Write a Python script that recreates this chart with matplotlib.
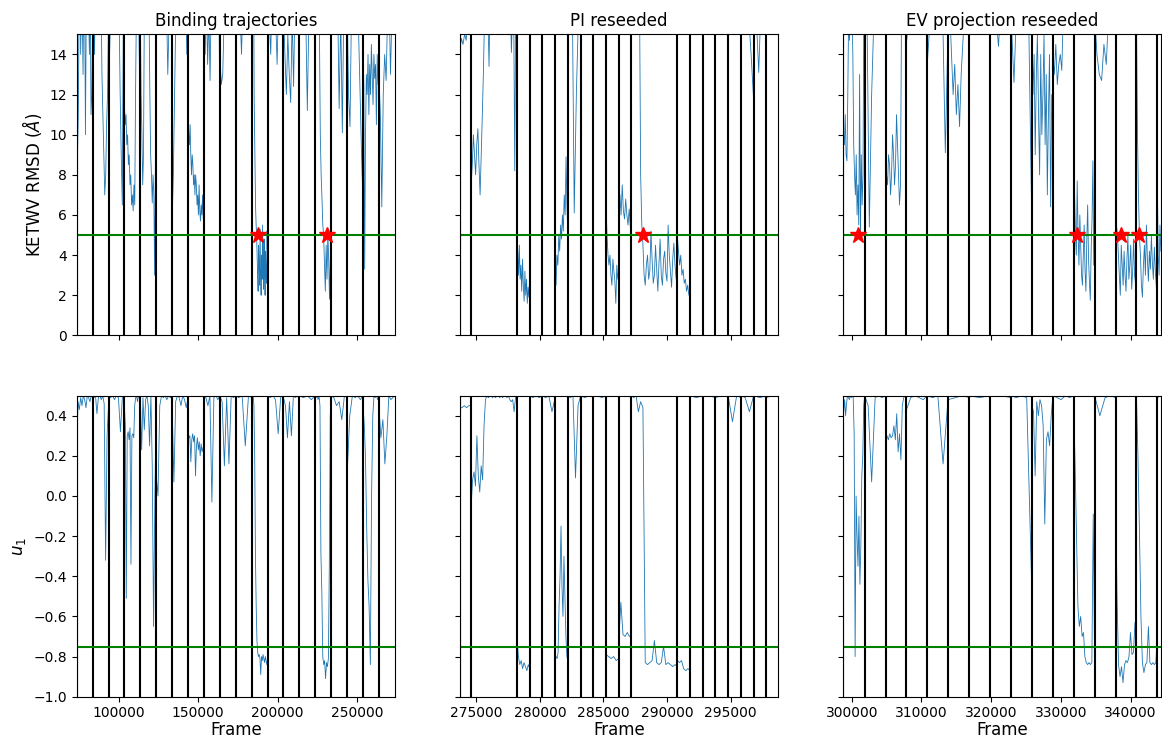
import numpy as np
import matplotlib.pyplot as plt

plt.rcParams['axes.formatter.useoffset'] = False

# trajectory start frames (last entry = end of the last trajectory)
bind_bounds = [73700 + 10000 * k for k in range(21)]
pi_bounds = [273700, 274600, 278200, 279200, 280200, 281200, 282200, 283200, 284200,
             285200, 286200, 287200, 290800, 291800, 292800, 293800, 294800, 295800,
             296800, 297800, 298700]
ev_bounds = [298700, 301850, 304850, 307850, 310850, 313850, 316850, 319850, 322850,
             325850, 328850, 331850, 334850, 337850, 340850, 343850, 344350]

# KETWV RMSD per trajectory (values above 15 are off the chart)
bind_rmsd = [
    [7, 9, 11, 16, 18, 14, 17, 16, 13, 18, 17, 10, 16, 18, 17, 16, 14, 17, 11, 12, 16],
    [16, 18, 14, 17, 16, 18, 17, 16, 15, 17, 13, 11, 9, 7, 8, 10.6, 12, 16],
    [17, 14, 16, 18, 16, 17, 18, 16, 15, 17, 16, 12, 9, 6.5, 16, 18],
    [11.5, 10.5, 11, 9.5, 10, 8.5, 9, 7.5, 8, 6.5, 7, 6.2, 7.5, 6.5, 12, 16, 18, 17, 16, 13, 17],
    [16, 12, 10, 7.5, 9, 16, 18, 17, 16, 15, 17, 16, 12, 9, 8, 6.6, 8, 7, 3.0, 9, 11],
    [17, 16, 18, 15, 17, 16, 18, 17, 13, 16, 18, 16],
    [5.7, 8, 12, 16, 18, 17, 16, 18, 17, 16, 15, 17, 14, 16],
    [12, 10, 9.5, 10.5, 9, 8, 9, 8.5, 7.5, 8, 7, 8, 7.5, 6.5, 7, 6, 7.5, 6.2, 5.7, 6.5, 6, 7, 5.8, 6.5],
    [16, 14, 17, 13.5, 16, 12.7, 17, 18, 16, 15, 17, 16, 18, 11.4],
    [14, 12.5, 13, 16, 18, 17, 16, 18, 17, 16, 17, 18],
    [17, 16, 18, 16, 14, 17, 18, 16, 17, 16, 18, 17],
    [16, 18, 17, 16, 18, 12, 10, 8, 6.3, 5.5, 5.0, 4, 3, 2.2, 4.5, 3.5, 2.5, 5.3, 3, 2, 4, 2.8,
     5.5, 3.5, 2.3, 4.8, 3.2, 2.0, 4.2, 3, 2.6, 5.2, 3.8],
    [17, 16, 14, 18, 17, 16, 13.5, 17, 18, 16, 17],
    [16, 14, 12, 15, 13, 11.6, 16, 12.4, 17, 18, 16, 17],
    [17, 16, 18, 17, 16, 11.2, 16, 18, 17, 16, 15],
    [17, 16, 18, 16, 17, 15, 10, 8, 6.8, 5.5, 5, 3.5, 2.2, 4.5, 2.8, 5.2, 3.8, 1.8, 4, 16],
    [17, 16, 18, 15, 17, 11.3, 16, 10.1, 17, 18, 16],
    [17, 12, 10.4, 16, 18, 17, 16, 18, 15, 12, 9, 6.6],
    [14, 12.5, 3.3, 10, 13, 12, 14, 11, 13.5, 12, 14.5, 13, 11.5, 14, 12.8, 13.5, 10.5, 14, 12.5, 13],
    [13, 11, 6.4, 12, 14, 12.7, 16, 17, 13, 16, 18, 17],
]
pi_rmsd = [
    [14.1, 14.8, 14.5, 15, 14.7, 16, 15.5, 17],
    [7.5, 8.5, 10, 9, 8, 9.5, 10.3, 8.5, 7, 9, 11, 13.2, 16, 17, 18, 16, 13.4, 17, 18, 16, 17, 18,
     16, 17, 18, 16, 17, 18, 16, 17, 18, 16, 17, 18, 16, 17, 14.1, 16, 17, 8.2, 17, 16],
    [5.5, 4.2, 3, 4.5, 2.8, 3.5, 2.2, 3.8, 2.5, 1.7, 3.2, 2.0, 2.8, 1.6, 2.4, 1.9, 3],
    [16, 18, 17, 16],
    [17, 16, 18, 17],
    [3, 2.5, 4, 3.5, 5, 4.2, 5.5, 4.8, 6, 5.2, 7, 6, 8.9, 6.5, 5],
    [16, 17, 18, 6.1, 12, 16, 17],
    [16, 17, 18, 16],
    [17, 16, 18, 17],
    [6.5, 5, 4, 3.5, 4, 3, 2.5, 3.8, 3.2, 2.7, 1.6, 3.5, 2.8, 3.2],
    [6.5, 7, 6, 7.5, 6.2, 5.8, 6.8, 6, 5.5, 6.3, 5.4, 6],
    [16, 18, 17, 16, 18, 17, 16, 17, 8, 5.5, 4.5, 3, 2.5, 3.5, 4, 2.8, 3.2, 5.2, 3.8, 2.6, 3, 4.5,
     3.3, 2.2, 3.6, 4.8, 3.0, 2.5, 3.8, 4.2, 3.1, 2.7, 5.5, 4, 3.2, 2.4, 3.8, 4.6, 3.5, 2.8, 4.0],
    [5, 4.2, 3.5, 4, 3, 3.3, 2.6, 2.8, 2.2, 2.5, 2.0, 2.4],
    [17, 16, 18, 17],
    [16, 18, 17, 16],
    [17, 16, 18, 17],
    [16, 17, 18, 16],
    [16, 17, 18, 16, 14, 11.7],
    [14.5, 16, 13.1, 17, 16, 18],
    [17, 16, 18],
]
ev_rmsd = [
    [11.5, 10, 9.5, 11, 9, 8.7, 12, 16, 14.7, 17, 15, 16, 14, 9.5, 8, 7, 9, 6, 7.5, 5.5, 13, 5.0,
     9, 6.5, 8, 16, 17],
    [17, 16, 5.4, 12, 16, 18, 17, 16, 18, 17],
    [9.5, 8, 7.5, 9, 8.5, 7, 8, 10, 9, 7.5, 8.5, 11, 9.5, 8, 6.5, 7.5, 16, 18, 17, 16, 17, 18],
    [14.6, 16, 17, 18, 16, 17, 16, 18],
    [13.6, 16, 18, 17, 16, 17, 9.1, 16],
    [17, 16, 14, 12, 13.5, 11, 12.5, 10.4, 13, 14.5, 16, 17, 18, 16],
    [17, 16, 18, 17],
    [16, 17, 14.4, 18, 17, 16],
    [16, 12.6, 17, 18, 16, 17, 15, 5.2],
    [16, 12, 14, 9, 13, 15, 11, 8, 14, 10, 12, 15, 9.5, 13, 7, 11, 14, 6.4, 12, 10],
    [14, 13, 14.5, 12.5, 13.5, 14, 13.2, 16, 17, 18, 16, 17, 16, 17, 18],
    [9.9, 7, 5.0, 4, 7.7, 5, 3.5, 6, 4.5, 3, 2.5, 4, 5.5, 3.2, 2.2, 4.8, 6.5, 3.8, 2.7, 1.75, 4.2,
     5.8, 8.7, 3.5, 5],
    [16, 14, 13, 12.7, 14.5, 13.5, 16, 17, 18, 16],
    [6, 5.5, 5, 4, 3, 2, 4.5, 3.5, 2.5, 4.2, 3, 2.2, 3.8, 5, 2.8, 3.5, 4.5, 2.3, 3.2, 4.8, 3, 2.6, 5.2],
    [16, 10.2, 7, 5.0, 4, 2.5, 1.9, 3.5, 4.5, 3, 5.5, 3.8, 2.7, 4.2, 3.3, 5, 3.6, 2.8, 4.4, 3.2, 2.4, 7.7],
    [7.7, 4, 3, 5.5, 4.2],
]

# u1 per trajectory
bind_u1 = [
    [0.22, 0.47, 0.43, 0.49, 0.45, 0.5, 0.48, 0.44, 0.5, 0.49, 0.47, 0.5, 0.49],
    [0.5, 0.49, 0.5, 0.41, 0.49, 0.5, 0.48, 0.5, 0.46, -0.32, 0.3, 0.45],
    [0.5, 0.49, 0.5, 0.48, 0.5, 0.49, 0.32, 0.5, 0.49],
    [0.45, 0.35, -0.51, 0.3, 0.32, 0.28, 0.34, -0.34, 0.3, 0.31, 0.29, 0.45, 0.49, 0.5, 0.47, 0.5, 0.49, 0.5],
    [0.5, 0.23, 0.49, 0.33, 0.48, 0.5, 0.45, 0.25, 0.5, 0.15, -0.65, 0.0, 0.45],
    [0.1, 0.0, 0.45, 0.5, 0.49, 0.5, 0.48, 0.5, 0.49, 0.5],
    [0.45, 0.07, 0.47, 0.5, 0.49, 0.45, 0.5, 0.48, 0.44, 0.49],
    [0.33, 0.29, 0.3, 0.17, 0.28, 0.31, 0.27, 0.3, 0.1, 0.25, 0.29, 0.23, 0.27, 0.2, 0.26, 0.22, 0.24, 0.25],
    [0.5, 0.49, 0.45, 0.5, -0.03, 0.49, 0.5, 0.48, 0.5],
    [0.5, 0.47, 0.15, 0.49, 0.16, 0.5, 0.49, 0.5],
    [0.5, 0.49, 0.5, 0.25, 0.5, 0.49],
    [0.5, 0.49, 0.5, 0.45, 0.2, -0.3, -0.55, -0.72, -0.78, -0.8, -0.79, -0.81, -0.89, -0.8, -0.82,
     -0.79, -0.81, -0.83, -0.8, -0.82, -0.84, -0.81],
    [0.5, 0.49, 0.5, 0.48, 0.31, 0.5, 0.49],
    [0.49, 0.45, 0.29, 0.47, 0.3, 0.5, 0.49, 0.5, 0.48],
    [0.5, 0.49, 0.5, 0.48, 0.5],
    [0.5, 0.49, 0.5, 0.48, 0.5, 0.45, -0.28, -0.48, -0.8, -0.84, -0.82, -0.91, -0.83, -0.85, -0.81, -0.35, 0.4, 0.5],
    [0.5, 0.49, 0.45, 0.47, 0.38, 0.5, 0.49],
    [0.1, 0.4, 0.5, 0.49, 0.5, 0.48, 0.5],
    [0.45, 0.36, 0.2, -0.15, -0.42, -0.55, -0.84, 0.0, 0.4, 0.5, 0.49, 0.5, 0.48, 0.5],
    [0.45, 0.29, 0.38, 0.16, 0.3, 0.5, 0.48, 0.49, 0.5],
]
pi_u1 = [
    [0.44, 0.44, 0.45, 0.44, 0.45, 0.45],
    [-0.05, 0.08, 0.12, 0.05, 0.3, 0.1, 0.02, 0.15, 0.08, 0.35, 0.48, 0.5, 0.49, 0.5, 0.5, 0.49,
     0.5, 0.49, 0.5, 0.5, 0.49, 0.5, 0.49, 0.5, 0.5, 0.49, 0.5, 0.48, 0.47, 0.48, 0.42, 0.49, 0.5],
    [-0.7, -0.8, -0.84, -0.82, -0.86, -0.83, -0.85, -0.87, -0.84, -0.86],
    [0.5, 0.49, 0.5, 0.49, 0.5],
    [0.5, 0.49, 0.5, 0.42, 0.49],
    [-0.82, -0.8, -0.81, -0.78, -0.55, -0.4, -0.15, -0.45, -0.6, -0.3, -0.5, -0.7, -0.8, -0.82],
    [0.5, 0.49, 0.5, 0.09, 0.45, 0.5],
    [0.5, 0.49, 0.5, 0.5],
    [0.5, 0.5, 0.49, 0.5],
    [-0.79, -0.8, -0.81, -0.8, -0.82, -0.81],
    [-0.72, -0.53, -0.69, -0.7, -0.68, -0.7, -0.69],
    [0.5, 0.49, 0.5, 0.42, 0.47, 0.44, -0.83, -0.84, -0.83, -0.82, -0.72, -0.83, -0.84, -0.83,
     -0.75, -0.84, -0.83, -0.84, -0.85, -0.84, -0.85],
    [-0.82, -0.83, -0.82, -0.86, -0.87, -0.86, -0.87],
    [0.5, 0.49, 0.5],
    [0.5, 0.5, 0.49],
    [0.49, 0.5, 0.5],
    [0.5, 0.37, 0.5, 0.49],
    [0.5, 0.49, 0.42, 0.5],
    [0.5, 0.49, 0.5],
    [0.49, 0.5, 0.5],
]
ev_u1 = [
    [0.45, 0.42, 0.48, 0.4, 0.46, 0.5, 0.49, 0.48, 0.5, 0.49, 0.5, 0.49, 0.3, -0.8, 0.0, -0.2,
     -0.35, -0.1, -0.44, -0.25, 0.1, 0.2, 0.45, 0.5],
    [0.5, 0.45, 0.07, 0.49, 0.5, 0.49, 0.5],
    [0.29, 0.3, 0.28, 0.31, 0.29, 0.3, 0.35, 0.28, 0.41, 0.22, 0.31, 0.18, 0.45, 0.49, 0.5, 0.49],
    [0.43, 0.49, 0.5, 0.49, 0.48, 0.5],
    [0.5, 0.49, 0.5, 0.16, 0.5],
    [0.48, 0.49, 0.5, 0.49],
    [0.5, 0.49, 0.5],
    [0.5, 0.5, 0.49],
    [0.5, 0.49, 0.5, 0.49, -0.49],
    [0.45, 0.42, 0.1, 0.47, 0.4, 0.48, 0.45, 0.35, -0.14, 0.28, 0.32, 0.25, 0.4, 0.5],
    [0.5, 0.49, 0.48, 0.5, 0.49, 0.5],
    [0.45, 0.15, -0.2, -0.55, -0.65, -0.6, -0.7, -0.68, -0.8, -0.83, -0.84, -0.83, -0.84, -0.83, -0.09, -0.83],
    [0.5, 0.4, 0.49, 0.5, 0.49],
    [0.05, -0.5, -0.84, -0.9, -0.85, -0.93, -0.84, -0.82, -0.83, -0.8, -0.68, -0.79, -0.78, -0.63, -0.76],
    [0.5, 0.2, -0.17, -0.6, -0.83, -0.88, -0.84, -0.83, -0.65, -0.83, -0.84, -0.83, -0.84, -0.83, -0.69],
    [0.49, 0.5],
]

# frames where the RMSD first drops under the cutoff
bind_stars = [187700, 230900]
pi_stars = [288100]
ev_stars = [300850, 332350, 338600, 341250]

titles = ['Binding trajectories', 'PI reseeded', 'EV projection reseeded']
rmsd_cut = 5
u1_cut = -0.75

columns = [(bind_bounds, bind_rmsd, bind_u1, bind_stars),
           (pi_bounds, pi_rmsd, pi_u1, pi_stars),
           (ev_bounds, ev_rmsd, ev_u1, ev_stars)]

fig, axes = plt.subplots(2, 3, figsize=(11.62, 7.4), sharex='col', sharey='row')
fig.subplots_adjust(left=0.066, right=0.999, bottom=0.0585, top=0.9536, wspace=0.204, hspace=0.2)

for j, (bounds, rmsd, u1, stars) in enumerate(columns):
    top = axes[0, j]
    bot = axes[1, j]
    for k in range(len(rmsd)):
        x = np.linspace(bounds[k], bounds[k + 1], len(rmsd[k]))
        top.plot(x, rmsd[k], color='tab:blue', lw=0.6)
        x = np.linspace(bounds[k], bounds[k + 1], len(u1[k]))
        bot.plot(x, u1[k], color='tab:blue', lw=0.6)
    for b in bounds[:-1]:
        top.axvline(b, color='k', lw=1.5)
        bot.axvline(b, color='k', lw=1.5)
    top.axhline(rmsd_cut, color='g', lw=1.5)
    bot.axhline(u1_cut, color='g', lw=1.5)
    top.plot(stars, [rmsd_cut] * len(stars), 'r*', ms=12)
    top.set_title(titles[j], fontsize=12)
    bot.set_xlabel('Frame', fontsize=12, labelpad=0.5)
    bot.set_xlim(bounds[0], bounds[-1])

axes[0, 0].set_ylim(0, 15)
axes[0, 0].set_yticks(np.arange(0, 15, 2))
axes[1, 0].set_ylim(-1, 0.5)
axes[1, 0].set_yticks(np.arange(-1.0, 0.5, 0.2))
axes[0, 0].set_ylabel(r'KETWV RMSD ($\AA$)', fontsize=12)
axes[1, 0].set_ylabel(r'$u_1$', fontsize=12)

plt.savefig('out.png', dpi=100)
